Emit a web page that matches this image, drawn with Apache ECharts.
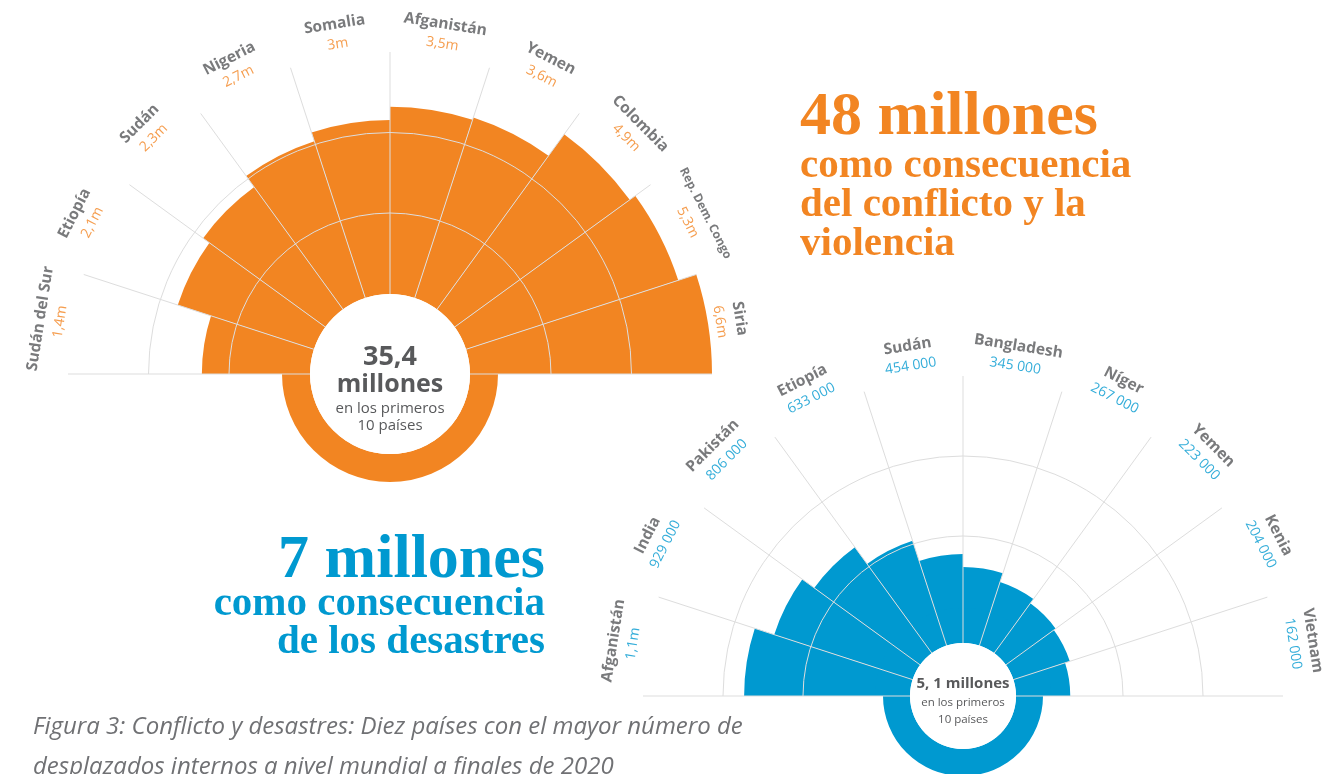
<!DOCTYPE html>
<html>
<head>
<meta charset="utf-8">
<script src="https://cdn.jsdelivr.net/npm/echarts@6/dist/echarts.min.js"></script>
<style>
html,body{margin:0;padding:0;background:#ffffff;}
#chart{width:1342px;height:774px;}
</style>
</head>
<body>
<div id="chart"></div>
<script>
// ---------- DATA ----------
const conflictCountries = ['Sudán del Sur', 'Etiopía', 'Sudán', 'Nigeria', 'Somalia', 'Afganistán', 'Yemen', 'Colombia', 'Rep. Dem. Congo', 'Siria'];
const conflictValues = [1.4, 2.1, 2.3, 2.7, 3.0, 3.5, 3.6, 4.9, 5.3, 6.6];
const conflictValueLabels = ['1,4m', '2,1m', '2,3m', '2,7m', '3m', '3,5m', '3,6m', '4,9m', '5,3m', '6,6m'];

const disasterCountries = ['Afganistán', 'India', 'Pakistán', 'Etiopía', 'Sudán', 'Bangladesh', 'Níger', 'Yemen', 'Kenia', 'Vietnam'];
const disasterValues = [1.1, 0.929, 0.806, 0.633, 0.454, 0.345, 0.267, 0.223, 0.204, 0.162];
const disasterValueLabels = ['1,1m', '929 000', '806 000', '633 000', '454 000', '345 000', '267 000', '223 000', '204 000', '162 000'];

const ringTicks = [0, 1, 2, 3, 4];            // guide rings (only 2 and 3 drawn)
const ringVisible = [false, false, true, true, false];

// ---------- STYLE / LAYOUT ----------
const ORANGE = '#F28522';
const BLUE = '#0099D0';
const GRAY = '#58595B';
const LINE = '#DDDDDD';
const CLEAR = 'rgba(0,0,0,0)';
const SANS = '"Open Sans", "Noto Sans", sans-serif';
const SERIF = '"Liberation Serif", "DejaVu Serif", serif';

const oCenter = [390, 374], oOuter = 322, oInner = 80, oRing = 108;
const bCenter = [963, 696], bOuter = 320, bInner = 53, bBarStart = 88, bRing = 80;
const labelRadiusPx = 345;

const chart = echarts.init(document.getElementById('chart'), null, {renderer: 'canvas'});

function hiddenAxisParts() {
  return {axisLine: {show: false}, axisTick: {show: false}, axisLabel: {show: false}, splitLine: {show: false}, splitArea: {show: false}};
}

function angleAxis(polarIndex, cats, showSplit) {
  return Object.assign(hiddenAxisParts(), {
    polarIndex: polarIndex, type: 'category', data: cats,
    startAngle: 180, endAngle: 0, boundaryGap: true, z: 3,
    splitLine: {show: showSplit, lineStyle: {color: LINE, width: 1}}
  });
}

function ringAxis(polarIndex) {
  return Object.assign(hiddenAxisParts(), {
    polarIndex: polarIndex, type: 'value', min: ringTicks[0], max: ringTicks[ringTicks.length - 1], interval: 1, z: 3,
    splitLine: {show: true, lineStyle: {width: 1, color: ringVisible.map(v => v ? LINE : CLEAR)}}
  });
}

function halfRing(center, inner, outer, color, startAngle, z) {
  return {
    type: 'pie', center: center, radius: [inner, outer], startAngle: startAngle, clockwise: true,
    silent: true, z: z, label: {show: false}, labelLine: {show: false}, emphasis: {disabled: true},
    data: [{value: 1, itemStyle: {color: color}}, {value: 1, itemStyle: {color: CLEAR}}]
  };
}

function disc(center, r, z) {
  return {
    type: 'pie', center: center, radius: [0, r], silent: true, z: z,
    label: {show: false}, labelLine: {show: false}, emphasis: {disabled: true},
    data: [{value: 1, itemStyle: {color: '#ffffff'}}]
  };
}

function labelSeries(polarIndex, cats, valueLabels, outer, valueColor) {
  const n = cats.length;
  const rUnits = labelRadiusPx / (outer / ringTicks[ringTicks.length - 1]);
  return {
    type: 'scatter', coordinateSystem: 'polar', polarIndex: polarIndex, clip: false,
    symbolSize: 1, itemStyle: {color: CLEAR}, silent: true, z: 6,
    data: cats.map((c, i) => ({
      value: [rUnits, i],
      label: {rotate: (180 - (180 / n) * (i + 0.5)) - 90}
    })),
    label: {
      show: true, position: 'inside', align: 'center', verticalAlign: 'middle',
      formatter: p => {
        const name = cats[p.dataIndex];
        const key = name.length > 13 ? 'ns' : 'n';
        return '{' + key + '|' + name + '}\n{v|' + valueLabels[p.dataIndex] + '}';
      },
      rich: {
        n: {fontFamily: SANS, fontWeight: 'bold', fontSize: 15.5, lineHeight: 22, color: GRAY, align: 'center'},
        ns: {fontFamily: SANS, fontWeight: 'bold', fontSize: 12, lineHeight: 22, color: GRAY, align: 'center'},
        v: {fontFamily: SANS, fontSize: 14, lineHeight: 18, color: valueColor, align: 'center'}
      }
    }
  };
}

function txt(text, x, y, font, color, align) {
  return {type: 'text', z: 20, silent: true,
    style: {text: text, x: x, y: y, font: font, fill: color, align: align || 'center', verticalAlign: 'middle'}};
}

const option = {
  animation: false,
  backgroundColor: '#ffffff',
  polar: [
    {center: oCenter, radius: [0, oOuter]},
    {center: oCenter, radius: [oInner, oOuter]},
    {center: bCenter, radius: [0, bOuter]},
    {center: bCenter, radius: [bBarStart, bOuter]}
  ],
  angleAxis: [
    angleAxis(0, conflictCountries, true),
    angleAxis(1, conflictCountries, false),
    angleAxis(2, disasterCountries, true),
    angleAxis(3, disasterCountries, false)
  ],
  radiusAxis: [
    ringAxis(0),
    Object.assign(hiddenAxisParts(), {polarIndex: 1, type: 'log', min: 0.4, max: 6.6, startValue: 0.4}),
    ringAxis(2),
    Object.assign(hiddenAxisParts(), {polarIndex: 3, type: 'value', min: 0, max: 1.95})
  ],
  series: [
    // conflict (orange)
    halfRing(oCenter, oInner, oRing, ORANGE, 0, 1),
    {type: 'bar', coordinateSystem: 'polar', polarIndex: 1, data: conflictValues,
      barCategoryGap: '0%', barGap: '0%', z: 2, silent: true,
      itemStyle: {color: ORANGE, borderWidth: 0}},
    disc(oCenter, oInner, 4),
    labelSeries(0, conflictCountries, conflictValueLabels, oOuter, ORANGE),
    // disasters (blue)
    halfRing(bCenter, bInner, bRing, BLUE, 0, 1),
    halfRing(bCenter, bInner, bBarStart + 4, BLUE, 180, 1),
    {type: 'bar', coordinateSystem: 'polar', polarIndex: 3, data: disasterValues,
      barCategoryGap: '0%', barGap: '0%', z: 2, silent: true,
      itemStyle: {color: BLUE, borderWidth: 0}},
    disc(bCenter, bInner, 4),
    labelSeries(2, disasterCountries, disasterValueLabels, bOuter, BLUE)
  ],
  graphic: {elements: [
    // orange centre
    txt('35,4', oCenter[0], 357, 'bold 27px ' + SANS, GRAY),
    txt('millones', oCenter[0], 385, 'bold 25px ' + SANS, GRAY),
    txt('en los primeros', oCenter[0], 409, '15px ' + SANS, GRAY),
    txt('10 países', oCenter[0], 426, '15px ' + SANS, GRAY),
    // blue centre
    txt('5, 1 millones', bCenter[0], 684, 'bold 15px ' + SANS, GRAY),
    txt('en los primeros', bCenter[0], 703, '11.5px ' + SANS, GRAY),
    txt('10 países', bCenter[0], 720, '11.5px ' + SANS, GRAY),
    // orange headline
    txt('48 millones', 800, 118, 'bold 62px ' + SERIF, ORANGE, 'left'),
    txt('como consecuencia', 800, 166, 'bold 41px ' + SERIF, ORANGE, 'left'),
    txt('del conflicto y la', 800, 205, 'bold 41px ' + SERIF, ORANGE, 'left'),
    txt('violencia', 800, 244, 'bold 41px ' + SERIF, ORANGE, 'left'),
    // blue headline
    txt('7 millones', 545, 561, 'bold 62px ' + SERIF, BLUE, 'right'),
    txt('como consecuencia', 545, 604, 'bold 41px ' + SERIF, BLUE, 'right'),
    txt('de los desastres', 545, 642, 'bold 41px ' + SERIF, BLUE, 'right'),
    // caption
    txt('Figura 3: Conflicto y desastres: Diez países con el mayor número de', 33, 727, 'italic 24px ' + SANS, '#707174', 'left'),
    txt('desplazados internos a nivel mundial a finales de 2020', 33, 767, 'italic 24px ' + SANS, '#707174', 'left')
  ]}
};

chart.setOption(option);
</script>
</body>
</html>
